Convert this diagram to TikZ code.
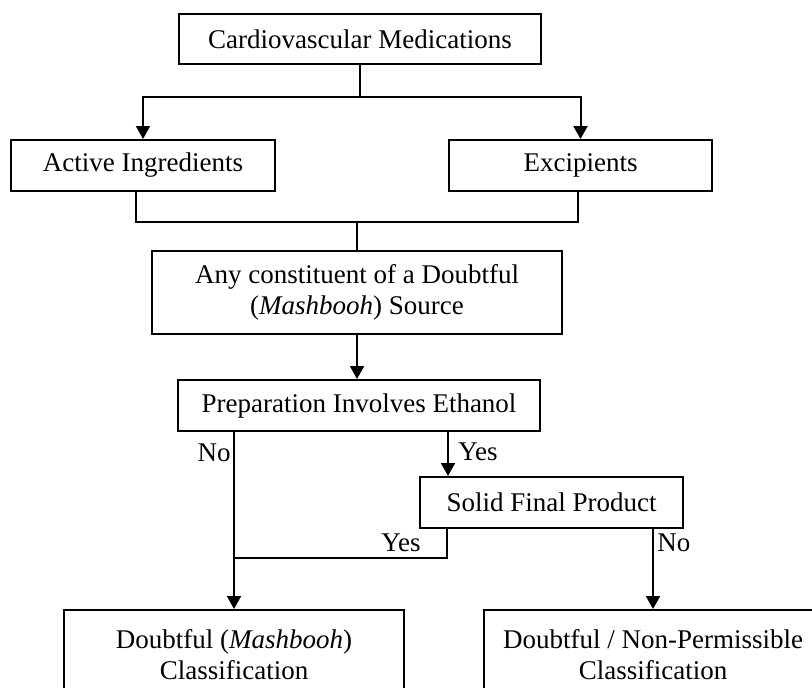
\documentclass[tikz,border=0pt]{standalone}
\usepackage{fontspec}
\setmainfont{Liberation Serif}
\usetikzlibrary{arrows.meta}
\begin{document}
\begin{tikzpicture}[x=0.5pt,y=-0.5pt,
  box/.style={draw, line width=1pt, minimum height=25.5pt, inner sep=0pt, align=center, font=\fontsize{13.5}{15.5}\selectfont},
  arr/.style={line width=1pt, -{Triangle[length=6.5pt,width=7pt]}},
  ln/.style={line width=1pt},
  lbl/.style={inner sep=0pt, font=\fontsize{13.5}{15.5}\selectfont}]
\clip (0,0) rectangle (812,687);
\useasboundingbox (0,0) rectangle (812,687);
\node[box, minimum width=181pt, minimum height=25pt] (top) at (360,39) {Cardiovascular Medications};
\node[box, minimum width=132pt] (act) at (143,165.5) {Active Ingredients};
\node[box, minimum width=131.5pt] (exc) at (580.5,165.5) {Excipients};
\node[box, minimum width=205pt, minimum height=41.5pt] (con) at (357,292.5) {Any constituent of a Doubtful\\(\textit{Mashbooh}) Source};
\node[box, minimum width=181pt] (prep) at (359,405.5) {Preparation Involves Ethanol};
\node[box, minimum width=131.5pt] (sol) at (551.5,502.5) {Solid Final Product};
\node[box, minimum width=170pt, minimum height=45pt] (dm) at (234,655) {Doubtful (\textit{Mashbooh})\\Classification};
\node[box, minimum width=169pt, minimum height=45pt] (dn) at (653,655) {Doubtful / Non-Permissible\\Classification};
% top split
\draw[arr] (top.south) -- ++(0,32) -| (act.north);
\draw[arr] (top.south) ++(0,32) -| (exc.north);
% merge
\coordinate (ja) at ([xshift=-3.5pt]act.south);
\coordinate (je) at ([xshift=-1.25pt]exc.south);
\draw[ln] (ja) -- ++(0,30) -| (je);
\coordinate (j2) at (357,221);
\draw[ln] (j2) -- (con.north);
\draw[arr] (con.south) -- (con.south |- prep.north);
% ethanol branches
\draw[arr] (prep.south -| dm.north) -- (dm.north);
\node[lbl, anchor=east] (no1) at (231,453) {No};
\coordinate (ys) at ([xshift=14.5pt]sol.north west);
\draw[arr] (ys |- prep.south) -- (ys);
\node[lbl, anchor=west] (yes1) at (458,452) {Yes};
% solid branches
\coordinate (ys2) at ([xshift=14pt]sol.south west);
\coordinate (j3) at (234,558);
\draw[ln] (ys2) |- (j3);
\node[lbl, anchor=east] (yes2) at (421,543) {Yes};
\draw[arr] (sol.south -| dn.north) -- (dn.north);
\node[lbl, anchor=west] (no2) at (657,543) {No};
\end{tikzpicture}
\end{document}
